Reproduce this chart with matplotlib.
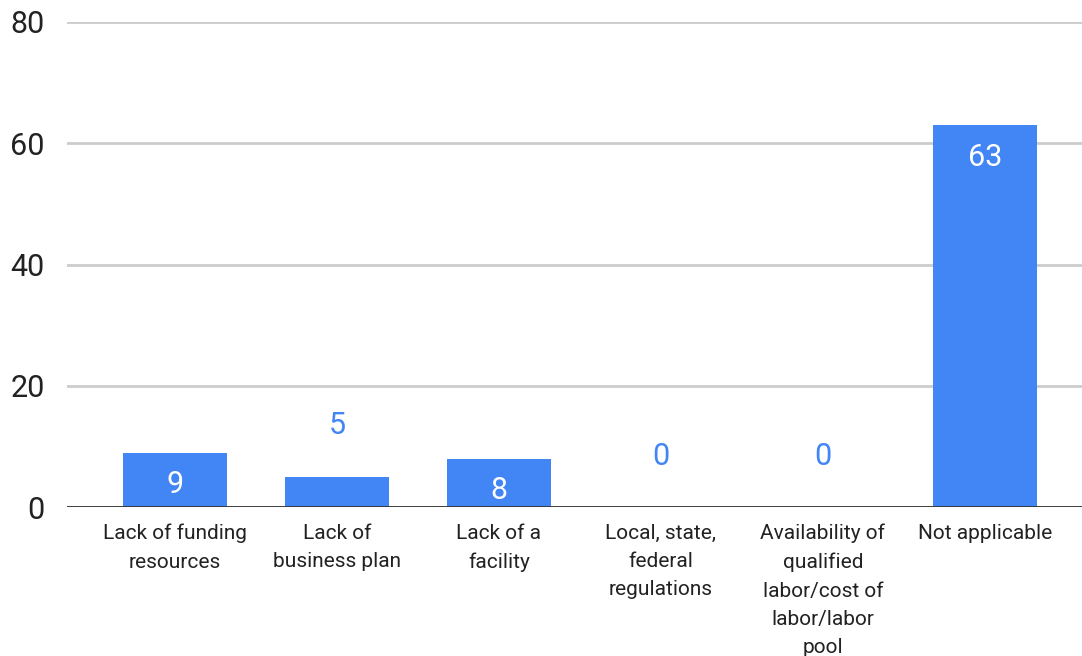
import numpy as np
import matplotlib.pyplot as plt

plt.rcParams['font.family'] = ['Roboto', 'DejaVu Sans']

# data
categories = ["Lack of funding\nresources", "Lack of\nbusiness plan", "Lack of a\nfacility",
              "Local, state,\nfederal\nregulations",
              "Availability of\nqualified\nlabor/cost of\nlabor/labor\npool",
              "Not applicable"]
values = [9, 5, 8, 0, 0, 63]
yticks = [0, 20, 40, 60, 80]

blue = '#4285F4'

fig = plt.figure(figsize=(10.82, 6.56), dpi=100)
ax = fig.add_axes([0.062, 0.227, 0.938, 0.7395])

x = np.arange(len(values))
bars = ax.bar(x, values, width=0.64, color=blue, zorder=3)

ax.set_xlim(-0.667, 5.6)
ax.set_ylim(0, 80)
ax.set_yticks(yticks)
ax.grid(axis='y', color='#cccccc', linewidth=2, zorder=0)
ax.axhline(0, color='#333333', linewidth=2, zorder=4)

for s in ax.spines.values():
    s.set_visible(False)

ax.tick_params(axis='y', length=0, pad=16, labelsize=22, labelcolor='#222222')
ax.tick_params(axis='x', length=0, pad=12)
ax.set_xticks(x)
ax.set_xticklabels(categories, fontsize=15, color='#222222', linespacing=1.62, va='top')

# value labels
for xi, v in zip(x, values):
    if v >= 8:
        ax.annotate(str(v), (xi, v), xytext=(0, -32), textcoords='offset pixels',
                    ha='center', va='center', color='white', fontsize=22, zorder=5)
    else:
        ax.annotate(str(v), (xi, v), xytext=(0, 51), textcoords='offset pixels',
                    ha='center', va='center', color=blue, fontsize=22, zorder=5)

plt.savefig('out.png', dpi=100)
